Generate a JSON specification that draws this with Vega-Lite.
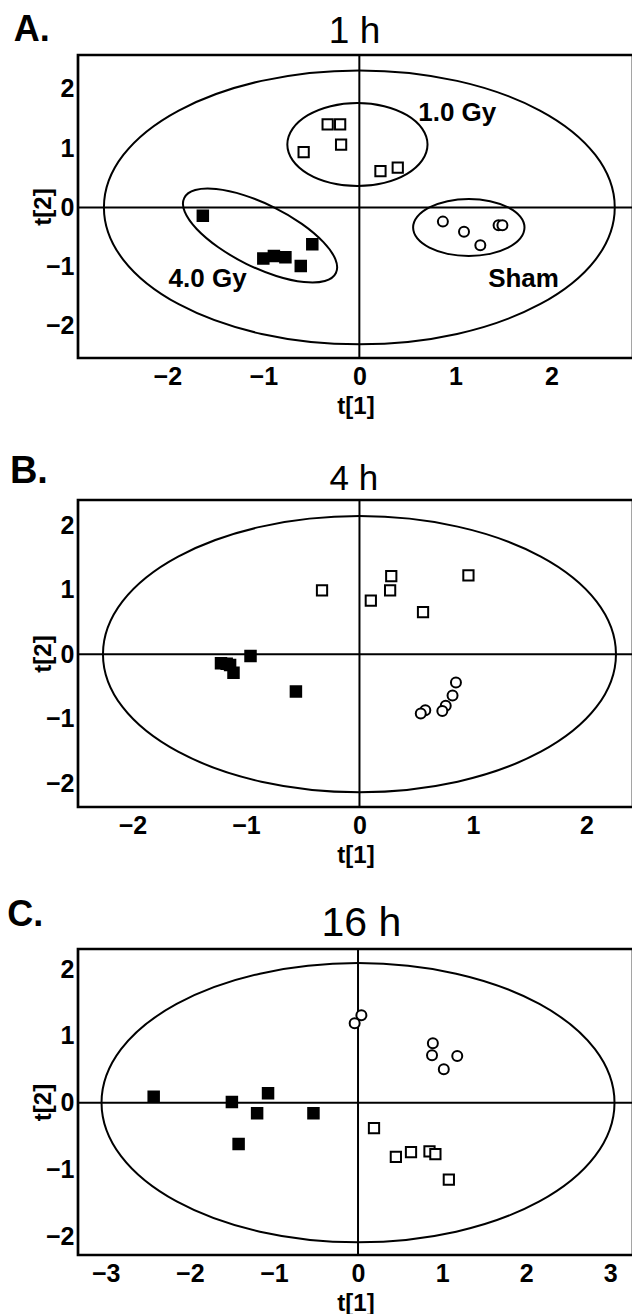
{
  "$schema": "https://vega.github.io/schema/vega-lite/v6.json",
  "padding": {"left": 6, "top": 10, "right": 0, "bottom": 0},
  "background": "white",
  "spacing": 142,
  "bounds": "flush",
  "config": {
    "font": "Liberation Sans",
    "view": {"stroke": "black", "strokeWidth": 2.7},
    "axis": {"labelFont": "Liberation Sans", "labelFontWeight": "bold", "labelFontSize": 25, "labelColor": "black", "titleFont": "Liberation Sans", "titleFontWeight": "bold", "titleFontSize": 24, "titleColor": "black", "ticks": false, "tickSize": 0, "grid": false, "domain": false, "labelFlush": false, "labelOverlap": false, "format": "d"},
    "axisX": {"labelPadding": 6, "titlePadding": 5},
    "axisY": {"labelPadding": 4, "titlePadding": -10},
    "text": {"color": "black"}
  },
  "datasets": {
    "ellA": [
      {"e":"big","i":0,"t1":2.66,"t2":0},{"e":"big","i":1,"t1":2.458,"t2":0.884},{"e":"big","i":2,"t1":1.881,"t2":1.633},{"e":"big","i":3,"t1":1.018,"t2":2.134},{"e":"big","i":4,"t1":0,"t2":2.31},{"e":"big","i":5,"t1":-1.018,"t2":2.134},{"e":"big","i":6,"t1":-1.881,"t2":1.633},{"e":"big","i":7,"t1":-2.458,"t2":0.884},{"e":"big","i":8,"t1":-2.66,"t2":0},{"e":"big","i":9,"t1":-2.458,"t2":-0.884},{"e":"big","i":10,"t1":-1.881,"t2":-1.633},{"e":"big","i":11,"t1":-1.018,"t2":-2.134},{"e":"big","i":12,"t1":0,"t2":-2.31},{"e":"big","i":13,"t1":1.018,"t2":-2.134},{"e":"big","i":14,"t1":1.881,"t2":-1.633},{"e":"big","i":15,"t1":2.458,"t2":-0.884},
      {"e":"g1","i":0,"t1":0.71,"t2":1.06},{"e":"g1","i":1,"t1":0.654,"t2":1.328},{"e":"g1","i":2,"t1":0.496,"t2":1.555},{"e":"g1","i":3,"t1":0.259,"t2":1.707},{"e":"g1","i":4,"t1":-0.02,"t2":1.76},{"e":"g1","i":5,"t1":-0.299,"t2":1.707},{"e":"g1","i":6,"t1":-0.536,"t2":1.555},{"e":"g1","i":7,"t1":-0.694,"t2":1.328},{"e":"g1","i":8,"t1":-0.75,"t2":1.06},{"e":"g1","i":9,"t1":-0.694,"t2":0.792},{"e":"g1","i":10,"t1":-0.536,"t2":0.565},{"e":"g1","i":11,"t1":-0.299,"t2":0.413},{"e":"g1","i":12,"t1":-0.02,"t2":0.36},{"e":"g1","i":13,"t1":0.259,"t2":0.413},{"e":"g1","i":14,"t1":0.496,"t2":0.565},{"e":"g1","i":15,"t1":0.654,"t2":0.792},
      {"e":"sham","i":0,"t1":1.72,"t2":-0.34},{"e":"sham","i":1,"t1":1.676,"t2":-0.156},{"e":"sham","i":2,"t1":1.55,"t2":-0.001},{"e":"sham","i":3,"t1":1.362,"t2":0.104},{"e":"sham","i":4,"t1":1.14,"t2":0.14},{"e":"sham","i":5,"t1":0.918,"t2":0.104},{"e":"sham","i":6,"t1":0.73,"t2":-0.001},{"e":"sham","i":7,"t1":0.604,"t2":-0.156},{"e":"sham","i":8,"t1":0.56,"t2":-0.34},{"e":"sham","i":9,"t1":0.604,"t2":-0.524},{"e":"sham","i":10,"t1":0.73,"t2":-0.679},{"e":"sham","i":11,"t1":0.918,"t2":-0.784},{"e":"sham","i":12,"t1":1.14,"t2":-0.82},{"e":"sham","i":13,"t1":1.362,"t2":-0.784},{"e":"sham","i":14,"t1":1.55,"t2":-0.679},{"e":"sham","i":15,"t1":1.676,"t2":-0.524},
      {"e":"g4","i":0,"t1":-0.244,"t2":-1.107},{"e":"g4","i":1,"t1":-0.359,"t2":-1.242},{"e":"g4","i":2,"t1":-0.577,"t2":-1.259},{"e":"g4","i":3,"t1":-0.865,"t2":-1.157},{"e":"g4","i":4,"t1":-1.178,"t2":-0.951},{"e":"g4","i":5,"t1":-1.469,"t2":-0.673},{"e":"g4","i":6,"t1":-1.694,"t2":-0.365},{"e":"g4","i":7,"t1":-1.819,"t2":-0.073},{"e":"g4","i":8,"t1":-1.824,"t2":0.157},{"e":"g4","i":9,"t1":-1.709,"t2":0.292},{"e":"g4","i":10,"t1":-1.491,"t2":0.309},{"e":"g4","i":11,"t1":-1.203,"t2":0.207},{"e":"g4","i":12,"t1":-0.89,"t2":0.001},{"e":"g4","i":13,"t1":-0.599,"t2":-0.277},{"e":"g4","i":14,"t1":-0.374,"t2":-0.586},{"e":"g4","i":15,"t1":-0.249,"t2":-0.877}
    ],
    "ellB": [
      {"e":"big","i":0,"t1":2.26,"t2":0},{"e":"big","i":1,"t1":2.088,"t2":0.819},{"e":"big","i":2,"t1":1.598,"t2":1.513},{"e":"big","i":3,"t1":0.865,"t2":1.977},{"e":"big","i":4,"t1":0,"t2":2.14},{"e":"big","i":5,"t1":-0.865,"t2":1.977},{"e":"big","i":6,"t1":-1.598,"t2":1.513},{"e":"big","i":7,"t1":-2.088,"t2":0.819},{"e":"big","i":8,"t1":-2.26,"t2":0},{"e":"big","i":9,"t1":-2.088,"t2":-0.819},{"e":"big","i":10,"t1":-1.598,"t2":-1.513},{"e":"big","i":11,"t1":-0.865,"t2":-1.977},{"e":"big","i":12,"t1":0,"t2":-2.14},{"e":"big","i":13,"t1":0.865,"t2":-1.977},{"e":"big","i":14,"t1":1.598,"t2":-1.513},{"e":"big","i":15,"t1":2.088,"t2":-0.819}
    ],
    "ellC": [
      {"e":"big","i":0,"t1":3.05,"t2":0},{"e":"big","i":1,"t1":2.818,"t2":0.8},{"e":"big","i":2,"t1":2.157,"t2":1.478},{"e":"big","i":3,"t1":1.167,"t2":1.931},{"e":"big","i":4,"t1":0,"t2":2.09},{"e":"big","i":5,"t1":-1.167,"t2":1.931},{"e":"big","i":6,"t1":-2.157,"t2":1.478},{"e":"big","i":7,"t1":-2.818,"t2":0.8},{"e":"big","i":8,"t1":-3.05,"t2":0},{"e":"big","i":9,"t1":-2.818,"t2":-0.8},{"e":"big","i":10,"t1":-2.157,"t2":-1.478},{"e":"big","i":11,"t1":-1.167,"t2":-1.931},{"e":"big","i":12,"t1":0,"t2":-2.09},{"e":"big","i":13,"t1":1.167,"t2":-1.931},{"e":"big","i":14,"t1":2.157,"t2":-1.478},{"e":"big","i":15,"t1":2.818,"t2":-0.8}
    ],
    "ptsA": [
      {"g":"4.0 Gy","t1":-1.63,"t2":-0.14},{"g":"4.0 Gy","t1":-0.49,"t2":-0.62},{"g":"4.0 Gy","t1":-1.0,"t2":-0.86},{"g":"4.0 Gy","t1":-0.89,"t2":-0.82},{"g":"4.0 Gy","t1":-0.77,"t2":-0.84},{"g":"4.0 Gy","t1":-0.61,"t2":-0.99},
      {"g":"1.0 Gy","t1":-0.33,"t2":1.4},{"g":"1.0 Gy","t1":-0.2,"t2":1.4},{"g":"1.0 Gy","t1":-0.19,"t2":1.06},{"g":"1.0 Gy","t1":-0.58,"t2":0.93},{"g":"1.0 Gy","t1":0.22,"t2":0.61},{"g":"1.0 Gy","t1":0.4,"t2":0.67},
      {"g":"Sham","t1":0.87,"t2":-0.24},{"g":"Sham","t1":1.09,"t2":-0.41},{"g":"Sham","t1":1.26,"t2":-0.64},{"g":"Sham","t1":1.45,"t2":-0.3},{"g":"Sham","t1":1.49,"t2":-0.3}
    ],
    "ptsB": [
      {"g":"4.0 Gy","t1":-0.96,"t2":-0.03},{"g":"4.0 Gy","t1":-1.22,"t2":-0.14},{"g":"4.0 Gy","t1":-1.14,"t2":-0.17},{"g":"4.0 Gy","t1":-1.11,"t2":-0.29},{"g":"4.0 Gy","t1":-0.56,"t2":-0.58},{"g":"4.0 Gy","t1":-1.17,"t2":-0.15},
      {"g":"1.0 Gy","t1":-0.33,"t2":0.99},{"g":"1.0 Gy","t1":0.1,"t2":0.83},{"g":"1.0 Gy","t1":0.27,"t2":0.99},{"g":"1.0 Gy","t1":0.28,"t2":1.21},{"g":"1.0 Gy","t1":0.56,"t2":0.65},{"g":"1.0 Gy","t1":0.96,"t2":1.22},
      {"g":"Sham","t1":0.85,"t2":-0.44},{"g":"Sham","t1":0.82,"t2":-0.64},{"g":"Sham","t1":0.76,"t2":-0.8},{"g":"Sham","t1":0.73,"t2":-0.88},{"g":"Sham","t1":0.58,"t2":-0.87},{"g":"Sham","t1":0.54,"t2":-0.92}
    ],
    "ptsC": [
      {"g":"4.0 Gy","t1":-2.43,"t2":0.09},{"g":"4.0 Gy","t1":-1.5,"t2":0.01},{"g":"4.0 Gy","t1":-1.07,"t2":0.14},{"g":"4.0 Gy","t1":-1.2,"t2":-0.16},{"g":"4.0 Gy","t1":-0.53,"t2":-0.16},{"g":"4.0 Gy","t1":-1.42,"t2":-0.62},
      {"g":"Sham","t1":-0.04,"t2":1.19},{"g":"Sham","t1":0.04,"t2":1.31},{"g":"Sham","t1":0.89,"t2":0.89},{"g":"Sham","t1":0.88,"t2":0.71},{"g":"Sham","t1":1.18,"t2":0.7},{"g":"Sham","t1":1.02,"t2":0.5},
      {"g":"1.0 Gy","t1":0.19,"t2":-0.38},{"g":"1.0 Gy","t1":0.45,"t2":-0.81},{"g":"1.0 Gy","t1":0.63,"t2":-0.74},{"g":"1.0 Gy","t1":0.85,"t2":-0.73},{"g":"1.0 Gy","t1":0.92,"t2":-0.77},{"g":"1.0 Gy","t1":1.08,"t2":-1.15}
    ]
  },
  "vconcat": [
    {
      "width": 555, "height": 303,
      "layer": [
        {"data": {"name": "ellA"}, "mark": {"type": "line", "interpolate": "cardinal-closed", "color": "black", "strokeWidth": 2},
         "encoding": {"x": {"field": "t1", "type": "quantitative", "scale": {"domain": [-2.93, 2.85], "nice": false, "zero": false}, "axis": {"values": [-2, -1, 0, 1, 2], "title": "t[1]"}},
                      "y": {"field": "t2", "type": "quantitative", "scale": {"domain": [-2.54, 2.57], "nice": false, "zero": false}, "axis": {"values": [-2, -1, 0, 1, 2], "title": "t[2]"}},
                      "order": {"field": "i"}, "detail": {"field": "e"}}},
        {"data": {"values": [{}]}, "mark": {"type": "rule", "color": "black", "strokeWidth": 2}, "encoding": {"x": {"datum": 0}}},
        {"data": {"values": [{}]}, "mark": {"type": "rule", "color": "black", "strokeWidth": 2}, "encoding": {"y": {"datum": 0}}},
        {"data": {"name": "ptsA"}, "mark": {"type": "point", "filled": true, "opacity": 1, "stroke": "black", "strokeWidth": 2},
         "encoding": {"x": {"field": "t1", "type": "quantitative"}, "y": {"field": "t2", "type": "quantitative"},
                      "shape": {"field": "g", "scale": {"domain": ["4.0 Gy", "1.0 Gy", "Sham"], "range": ["square", "square", "circle"]}, "legend": null},
                      "fill": {"field": "g", "scale": {"domain": ["4.0 Gy", "1.0 Gy", "Sham"], "range": ["black", "white", "white"]}, "legend": null},
                      "size": {"field": "g", "scale": {"domain": ["4.0 Gy", "1.0 Gy", "Sham"], "range": [110, 100, 70]}, "legend": null}}},
        {"data": {"values": [{"t1": 1.02, "t2": 1.45, "label": "1.0 Gy"}, {"t1": -1.58, "t2": -1.34, "label": "4.0 Gy"}, {"t1": 1.71, "t2": -1.34, "label": "Sham"}]},
         "mark": {"type": "text", "fontSize": 26, "fontWeight": "bold", "align": "center", "baseline": "alphabetic"},
         "encoding": {"x": {"field": "t1", "type": "quantitative"}, "y": {"field": "t2", "type": "quantitative"}, "text": {"field": "label"}}},
        {"data": {"values": [{"t1": -0.05, "t2": 2.77, "label": "1 h"}]},
         "mark": {"type": "text", "fontSize": 37, "fontWeight": "normal", "align": "center", "baseline": "alphabetic"},
         "encoding": {"x": {"field": "t1", "type": "quantitative"}, "y": {"field": "t2", "type": "quantitative"}, "text": {"field": "label"}}},
        {"data": {"values": [{"t1": -3.6, "t2": 2.81, "label": "A."}]},
         "mark": {"type": "text", "fontSize": 36, "fontWeight": "bold", "align": "left", "baseline": "alphabetic"},
         "encoding": {"x": {"field": "t1", "type": "quantitative"}, "y": {"field": "t2", "type": "quantitative"}, "text": {"field": "label"}}}
      ]
    },
    {
      "width": 555, "height": 307,
      "layer": [
        {"data": {"name": "ellB"}, "mark": {"type": "line", "interpolate": "cardinal-closed", "color": "black", "strokeWidth": 2},
         "encoding": {"x": {"field": "t1", "type": "quantitative", "scale": {"domain": [-2.48, 2.41], "nice": false, "zero": false}, "axis": {"values": [-2, -1, 0, 1, 2], "title": "t[1]"}},
                      "y": {"field": "t2", "type": "quantitative", "scale": {"domain": [-2.37, 2.39], "nice": false, "zero": false}, "axis": {"values": [-2, -1, 0, 1, 2], "title": "t[2]"}},
                      "order": {"field": "i"}, "detail": {"field": "e"}}},
        {"data": {"values": [{}]}, "mark": {"type": "rule", "color": "black", "strokeWidth": 2}, "encoding": {"x": {"datum": 0}}},
        {"data": {"values": [{}]}, "mark": {"type": "rule", "color": "black", "strokeWidth": 2}, "encoding": {"y": {"datum": 0}}},
        {"data": {"name": "ptsB"}, "mark": {"type": "point", "filled": true, "opacity": 1, "stroke": "black", "strokeWidth": 2},
         "encoding": {"x": {"field": "t1", "type": "quantitative"}, "y": {"field": "t2", "type": "quantitative"},
                      "shape": {"field": "g", "scale": {"domain": ["4.0 Gy", "1.0 Gy", "Sham"], "range": ["square", "square", "circle"]}, "legend": null},
                      "fill": {"field": "g", "scale": {"domain": ["4.0 Gy", "1.0 Gy", "Sham"], "range": ["black", "white", "white"]}, "legend": null},
                      "size": {"field": "g", "scale": {"domain": ["4.0 Gy", "1.0 Gy", "Sham"], "range": [110, 100, 70]}, "legend": null}}},
        {"data": {"values": [{"t1": -0.05, "t2": 2.54, "label": "4 h"}]},
         "mark": {"type": "text", "fontSize": 35, "fontWeight": "normal", "align": "center", "baseline": "alphabetic"},
         "encoding": {"x": {"field": "t1", "type": "quantitative"}, "y": {"field": "t2", "type": "quantitative"}, "text": {"field": "label"}}},
        {"data": {"values": [{"t1": -3.08, "t2": 2.66, "label": "B."}]},
         "mark": {"type": "text", "fontSize": 38, "fontWeight": "bold", "align": "left", "baseline": "alphabetic"},
         "encoding": {"x": {"field": "t1", "type": "quantitative"}, "y": {"field": "t2", "type": "quantitative"}, "text": {"field": "label"}}}
      ]
    },
    {
      "width": 555, "height": 306,
      "layer": [
        {"data": {"name": "ellC"}, "mark": {"type": "line", "interpolate": "cardinal-closed", "color": "black", "strokeWidth": 2},
         "encoding": {"x": {"field": "t1", "type": "quantitative", "scale": {"domain": [-3.33, 3.27], "nice": false, "zero": false}, "axis": {"values": [-3, -2, -1, 0, 1, 2, 3], "title": "t[1]"}},
                      "y": {"field": "t2", "type": "quantitative", "scale": {"domain": [-2.28, 2.3], "nice": false, "zero": false}, "axis": {"values": [-2, -1, 0, 1, 2], "title": "t[2]"}},
                      "order": {"field": "i"}, "detail": {"field": "e"}}},
        {"data": {"values": [{}]}, "mark": {"type": "rule", "color": "black", "strokeWidth": 2}, "encoding": {"x": {"datum": 0}}},
        {"data": {"values": [{}]}, "mark": {"type": "rule", "color": "black", "strokeWidth": 2}, "encoding": {"y": {"datum": 0}}},
        {"data": {"name": "ptsC"}, "mark": {"type": "point", "filled": true, "opacity": 1, "stroke": "black", "strokeWidth": 2},
         "encoding": {"x": {"field": "t1", "type": "quantitative"}, "y": {"field": "t2", "type": "quantitative"},
                      "shape": {"field": "g", "scale": {"domain": ["4.0 Gy", "1.0 Gy", "Sham"], "range": ["square", "square", "circle"]}, "legend": null},
                      "fill": {"field": "g", "scale": {"domain": ["4.0 Gy", "1.0 Gy", "Sham"], "range": ["black", "white", "white"]}, "legend": null},
                      "size": {"field": "g", "scale": {"domain": ["4.0 Gy", "1.0 Gy", "Sham"], "range": [110, 100, 70]}, "legend": null}}},
        {"data": {"values": [{"t1": 0.04, "t2": 2.49, "label": "16 h"}]},
         "mark": {"type": "text", "fontSize": 41, "fontWeight": "normal", "align": "center", "baseline": "alphabetic"},
         "encoding": {"x": {"field": "t1", "type": "quantitative"}, "y": {"field": "t2", "type": "quantitative"}, "text": {"field": "label"}}},
        {"data": {"values": [{"t1": -4.17, "t2": 2.65, "label": "C."}]},
         "mark": {"type": "text", "fontSize": 36, "fontWeight": "bold", "align": "left", "baseline": "alphabetic"},
         "encoding": {"x": {"field": "t1", "type": "quantitative"}, "y": {"field": "t2", "type": "quantitative"}, "text": {"field": "label"}}}
      ]
    }
  ]
}
